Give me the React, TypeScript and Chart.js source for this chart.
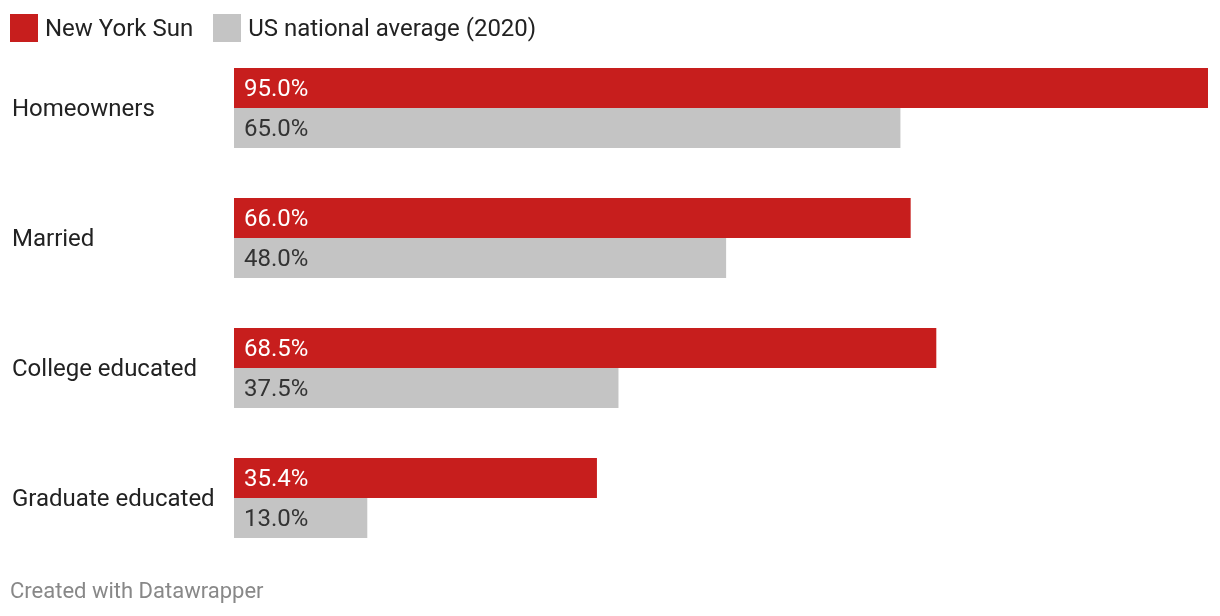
import React, { useEffect, useRef } from "react";
import { Chart, registerables } from "chart.js";

Chart.register(...registerables);

const categories = ["Homeowners", "Married", "College educated", "Graduate educated"];
const newYorkSun = [95.0, 66.0, 68.5, 35.4];
const usAverage = [65.0, 48.0, 37.5, 13.0];
const seriesNames = ["New York Sun", "US national average (2020)"];
const footerText = "Created with Datawrapper";

const RED = "#c71e1d";
const GRAY = "#c4c4c4";
const FONT = "Roboto, 'Noto Sans', sans-serif";

const valueLabels = {
  id: "valueLabels",
  afterDatasetsDraw(chart: any) {
    const ctx = chart.ctx;
    ctx.save();
    ctx.font = `24px ${FONT}`;
    ctx.textBaseline = "middle";
    ctx.textAlign = "left";
    chart.data.datasets.forEach((ds: any, di: number) => {
      const meta = chart.getDatasetMeta(di);
      meta.data.forEach((bar: any, i: number) => {
        const v = ds.data[i];
        ctx.fillStyle = di === 0 ? "#ffffff" : "#333333";
        ctx.fillText(v.toFixed(1) + "%", bar.base + 10, bar.y + 2);
      });
    });
    ctx.restore();
  },
};

export default function App() {
  const ref = useRef<HTMLCanvasElement | null>(null);
  useEffect(() => {
    document.body.style.margin = "0";
    const chart = new Chart(ref.current!, {
      type: "bar",
      data: {
        labels: categories,
        datasets: [
          { label: seriesNames[0], data: newYorkSun, backgroundColor: RED, barPercentage: 1, categoryPercentage: 80 / 130 },
          { label: seriesNames[1], data: usAverage, backgroundColor: GRAY, barPercentage: 1, categoryPercentage: 80 / 130 },
        ],
      },
      options: {
        indexAxis: "y",
        animation: false,
        responsive: false,
        maintainAspectRatio: false,
        layout: { padding: { left: 12, right: 12, top: 43, bottom: 53 } },
        plugins: { legend: { display: false }, tooltip: { enabled: false } },
        scales: {
          x: { display: false, min: 0, max: 95 },
          y: {
            grid: { display: false },
            border: { display: false },
            ticks: {
              crossAlign: "far",
              color: "#222222",
              font: { family: FONT, size: 24 },
              padding: 0,
              labelOffset: 2,
            },
            afterFit(axis: any) {
              axis.width = 222;
            },
          },
        },
      },
      plugins: [valueLabels],
    });
    return () => chart.destroy();
  }, []);

  return (
    <div style={{ position: "absolute", left: 0, top: 0, width: 1220, height: 616, background: "#fff", fontFamily: FONT }}>
      <canvas ref={ref} width={1220} height={616} style={{ position: "absolute", left: 0, top: 0 }} />
      <div style={{ position: "absolute", left: 10, top: 14, height: 28, display: "flex", alignItems: "center", fontSize: 24, lineHeight: "28px", color: "#222", whiteSpace: "nowrap" }}>
        <span style={{ display: "inline-block", width: 28, height: 28, background: RED, marginRight: 7 }} />
        <span style={{ marginRight: 20 }}>{seriesNames[0]}</span>
        <span style={{ display: "inline-block", width: 28, height: 28, background: GRAY, marginRight: 7 }} />
        <span>{seriesNames[1]}</span>
      </div>
      <div style={{ position: "absolute", left: 10, top: 578, fontSize: 22, lineHeight: "26px", color: "#888" }}>{footerText}</div>
    </div>
  );
}
